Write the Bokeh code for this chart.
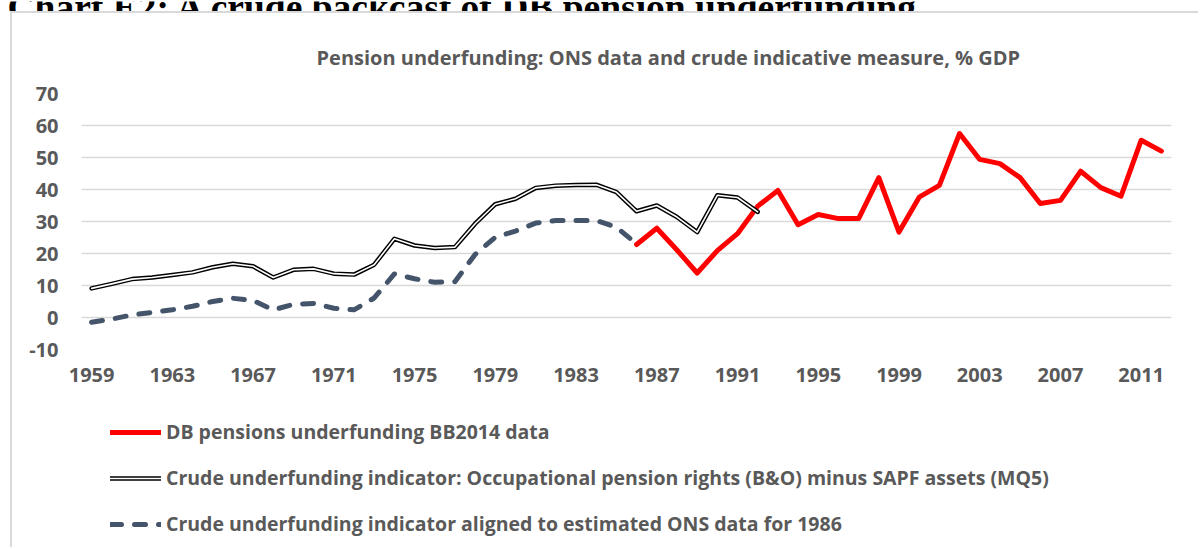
from bokeh.plotting import figure
from bokeh.layouts import column
from bokeh.models import (ColumnDataSource, FixedTicker, Label, Legend, LegendItem, Range1d, Title)
from bokeh.embed import file_html
from bokeh.resources import INLINE

# ---------------- data ----------------
crude_years = list(range(1959, 1993))
crude_values = [9.1, 10.5, 12.0, 12.5, 13.3, 14.1, 15.7, 16.8, 16.0, 12.5,
                14.9, 15.2, 13.7, 13.4, 16.5, 24.6, 22.5, 21.7, 22.0, 29.3,
                35.4, 37.1, 40.5, 41.2, 41.4, 41.5, 39.2, 33.2, 35.0, 31.4,
                26.7, 38.2, 37.5, 33.0]

aligned_years = list(range(1959, 1987))
aligned_values = [-1.5, -0.5, 0.8, 1.6, 2.4, 3.5, 5.0, 6.0, 5.3, 2.4,
                  4.1, 4.4, 2.9, 2.4, 6.1, 13.6, 12.1, 11.0, 11.2, 19.7,
                  25.1, 27.0, 29.5, 30.3, 30.3, 30.3, 28.2, 23.0]

bb_years = list(range(1986, 2013))
bb_values = [22.8, 27.9, 21.1, 13.9, 20.9, 26.2, 34.8, 39.7, 29.0, 32.2,
             30.9, 30.9, 43.7, 26.7, 37.6, 41.3, 57.5, 49.4, 48.1, 43.7,
             35.6, 36.6, 45.7, 40.6, 37.9, 55.4, 52.0]

x_tick_years = [1959, 1963, 1967, 1971, 1975, 1979, 1983, 1987, 1991,
                1995, 1999, 2003, 2007, 2011]
y_ticks = [-10, 0, 10, 20, 30, 40, 50, 60, 70]

series_labels = [
    "DB pensions underfunding BB2014 data",
    "Crude underfunding indicator: Occupational pension rights (B&O) minus SAPF assets (MQ5)",
    "Crude underfunding indicator aligned to estimated ONS data for 1986",
]
chart_title = "Pension underfunding: ONS data and crude indicative measure, % GDP"
page_title = "Chart E2: A crude backcast of DB pension underfunding"

# ---------------- styling ----------------
FONT = "Open Sans"
GRAY = "#595959"
GRID = "#d9d9d9"
RED = "#ff0000"
DASH = "#44546a"
BOX = f"2px solid {GRID}"
INSET = 71  # left inset that the column layout gives every frame


def bare(fig):
    fig.outline_line_color = None
    fig.grid.visible = False
    fig.background_fill_color = "white"
    fig.border_fill_color = "white"


# --- heading strip (clipped at the top of the page, as in the source) ---
HEAD_H = 11
head = figure(width=1200 + INSET, height=HEAD_H, output_backend="svg",
              toolbar_location=None, title=None,
              x_range=Range1d(0, 1), y_range=Range1d(0, 1),
              x_axis_location=None, y_axis_location=None,
              min_border_left=0, min_border_right=0, min_border_top=0, min_border_bottom=0)
bare(head)
head.styles = {"margin-left": f"{9 - INSET}px"}
head.add_layout(Label(x=0, y=HEAD_H - 6, x_units="screen", y_units="screen",
                      text=page_title, text_font="Liberation Serif",
                      text_font_style="bold", text_font_size="37.5px",
                      text_color="black", text_baseline="alphabetic"))

# --- main chart (inside the light grey box) ---
PW, PH = 1188, 392
p = figure(width=PW, height=PH, output_backend="svg", toolbar_location=None,
           title=None,
           x_range=Range1d(1958.5, 2012.5), y_range=Range1d(-10, 70),
           min_border_left=69, min_border_right=29, min_border_top=80,
           min_border_bottom=56)
p.outline_line_color = None
p.background_fill_color = "white"
p.border_fill_color = "white"
p.styles = {"margin-left": "10px", "border-left": BOX, "border-top": BOX}

p.add_layout(Title(text=chart_title, text_font=FONT, text_font_style="bold",
                   text_font_size="20px", text_color=GRAY, align="left",
                   offset=235, standoff=46), "above")

p.xaxis.ticker = FixedTicker(ticks=x_tick_years)
p.yaxis.ticker = FixedTicker(ticks=y_ticks)
p.xaxis.major_label_overrides = {y: str(y) for y in x_tick_years}
p.yaxis.major_label_overrides = {t: str(t) for t in y_ticks}
for ax in (p.xaxis, p.yaxis):
    ax.axis_line_color = None
    ax.major_tick_line_color = None
    ax.minor_tick_line_color = None
    ax.major_tick_in = 0
    ax.major_tick_out = 0
    ax.major_label_text_font = FONT
    ax.major_label_text_font_style = "bold"
    ax.major_label_text_font_size = "20px"
    ax.major_label_text_color = GRAY
p.yaxis.major_label_standoff = 23
p.xaxis.major_label_standoff = 18

p.xgrid.visible = False
p.ygrid.grid_line_color = GRID
p.ygrid.grid_line_width = 1.5

src_bb = ColumnDataSource(dict(x=bb_years, y=bb_values))
src_crude = ColumnDataSource(dict(x=crude_years, y=crude_values))
src_al = ColumnDataSource(dict(x=aligned_years, y=aligned_values))

styles = [
    dict(line_color=RED, line_width=5, line_join="round", line_cap="round"),
    dict(line_color="black", line_width=4.5, line_join="round", line_cap="round"),
    dict(line_color="white", line_width=1.6, line_join="round", line_cap="round"),
    dict(line_color=DASH, line_width=5, line_dash="11 13", line_join="round", line_cap="round"),
]
sources = [src_bb, src_crude, src_crude, src_al]

for src, st in zip(sources, styles):
    p.line("x", "y", source=src, **st)

# --- legend strip (continues the grey box below the chart) ---
LW, LH = 1188, 144
lf = figure(width=LW, height=LH, output_backend="svg", toolbar_location=None,
            title=None, x_range=Range1d(0, 1), y_range=Range1d(0, 1),
            x_axis_location=None, y_axis_location=None,
            min_border_left=0, min_border_right=0, min_border_top=0, min_border_bottom=0)
bare(lf)
lf.styles = {"margin-left": "10px", "border-left": BOX}
# same series, drawn out of this strip's view, only to feed the legend keys
lr = [lf.line("x", "y", source=src, **st) for src, st in zip(sources, styles)]

legend = Legend(items=[
    LegendItem(label=series_labels[0], renderers=[lr[0]]),
    LegendItem(label=series_labels[1], renderers=[lr[1], lr[2]]),
    LegendItem(label=series_labels[2], renderers=[lr[3]]),
], location=(29, 10), orientation="vertical",
    glyph_width=51, glyph_height=24, label_height=24, spacing=19,
    padding=0, margin=0, label_standoff=5,
    border_line_color=None, background_fill_alpha=0,
    label_text_font=FONT, label_text_font_style="bold",
    label_text_font_size="19.5px", label_text_color=GRAY)
lf.add_layout(legend)

layout = column(head, p, lf, spacing=0)
html = file_html(layout, INLINE, title="chart")
html = html.replace("<head>", "<head><style>html,body{margin:0;padding:0;overflow:hidden}</style>", 1)
open("out.html", "w").write(html)
